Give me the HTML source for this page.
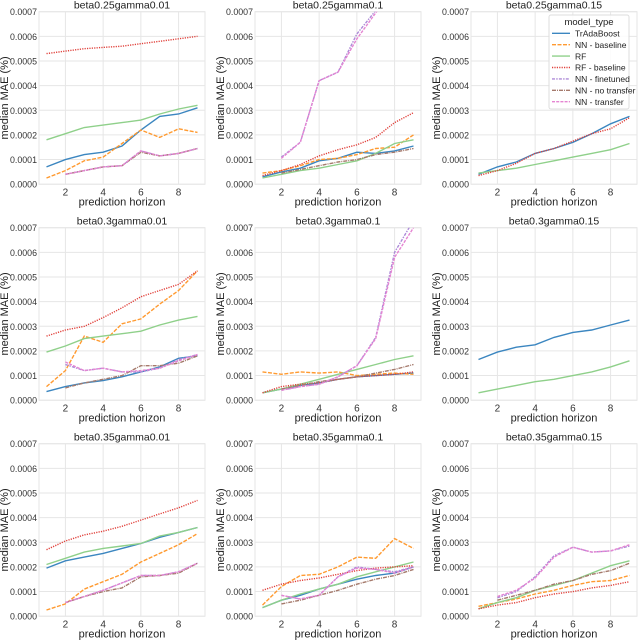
<!DOCTYPE html>
<html><head><meta charset="utf-8"><style>
body{margin:0;background:#fff;}
svg{display:block;font-family:"Liberation Sans",sans-serif;}
</style></head><body>
<svg id="chart" width="640" height="640" viewBox="0 0 640 640"></svg>
<script>
const NS="http://www.w3.org/2000/svg";
const xs=[1,2,3,4,5,6,7,8,9];
const yTicks=[0,1,2,3,4,5,6,7];
const yTickLabels=["0.0000","0.0001","0.0002","0.0003","0.0004","0.0005","0.0006","0.0007"];
const xTicks=[2,4,6,8];
const seriesNames=["TrAdaBoost","NN - baseline","RF","RF - baseline","NN - finetuned","NN - no transfer","NN - transfer"];
const panelTitles=["beta0.25gamma0.01","beta0.25gamma0.1","beta0.25gamma0.15","beta0.3gamma0.01","beta0.3gamma0.1","beta0.3gamma0.15","beta0.35gamma0.01","beta0.35gamma0.1","beta0.35gamma0.15"];
const N=null;
// values in units of 1e-4
const p1={"TrAdaBoost":[0.7,1.0,1.2,1.3,1.55,2.2,2.75,2.85,3.1],"NN - baseline":[0.25,0.55,0.95,1.1,1.65,2.2,1.9,2.25,2.1],"RF":[1.8,2.05,2.3,2.4,2.5,2.6,2.85,3.05,3.2],"RF - baseline":[5.3,5.4,5.5,5.55,5.6,5.7,5.8,5.9,6.0],"NN - finetuned":[N,0.4,0.55,0.7,0.75,1.35,1.15,1.25,1.45],"NN - no transfer":[N,0.4,0.55,0.7,0.75,1.3,1.15,1.25,1.45],"NN - transfer":[N,0.4,0.55,0.7,0.75,1.35,1.15,1.25,1.45]};
const p2={"TrAdaBoost":[0.3,0.5,0.65,0.95,1.05,1.3,1.25,1.35,1.55],"NN - baseline":[0.45,0.55,0.75,1.0,1.05,1.2,1.45,1.5,2.0],"RF":[0.25,0.4,0.55,0.65,0.8,0.95,1.25,1.65,1.8],"RF - baseline":[0.35,0.55,0.8,1.15,1.4,1.6,1.9,2.5,2.9],"NN - finetuned":[N,1.1,1.7,4.2,4.55,6.1,7.05,8.0,9.0],"NN - no transfer":[N,0.45,0.6,0.75,0.9,1.0,1.2,1.3,1.45],"NN - transfer":[N,1.05,1.7,4.2,4.55,5.9,6.95,8.0,9.0]};
const p3={"TrAdaBoost":[0.4,0.7,0.9,1.25,1.45,1.7,2.05,2.45,2.75],"RF":[0.45,0.55,0.65,0.8,0.95,1.1,1.25,1.4,1.65],"RF - baseline":[0.35,0.55,0.85,1.25,1.45,1.75,2.05,2.25,2.7]};
const p4={"TrAdaBoost":[0.35,0.55,0.7,0.8,0.95,1.15,1.35,1.7,1.8],"NN - baseline":[0.55,1.2,2.6,2.35,3.1,3.3,3.9,4.45,5.25],"RF":[1.95,2.2,2.5,2.6,2.7,2.8,3.05,3.25,3.4],"RF - baseline":[2.6,2.85,3.0,3.35,3.75,4.2,4.45,4.7,5.25],"NN - finetuned":[N,1.45,1.2,1.3,1.15,1.15,1.3,1.65,1.85],"NN - no transfer":[N,0.5,0.7,0.85,1.0,1.4,1.4,1.5,1.8],"NN - transfer":[N,1.55,1.2,1.3,1.15,1.2,1.3,1.6,1.85]};
const p5={"TrAdaBoost":[0.3,0.45,0.6,0.7,0.85,0.95,1.0,1.05,1.1],"NN - baseline":[1.15,1.05,1.15,1.1,1.15,1.0,1.05,1.1,1.05],"RF":[0.3,0.45,0.65,0.85,1.05,1.25,1.45,1.65,1.8],"RF - baseline":[0.3,0.55,0.65,0.7,0.85,0.95,1.0,1.05,1.15],"NN - finetuned":[N,0.4,0.55,0.65,0.95,1.4,2.55,6.0,7.3],"NN - no transfer":[N,0.45,0.6,0.75,0.85,0.95,1.1,1.25,1.45],"NN - transfer":[N,0.4,0.55,0.65,0.95,1.4,2.5,5.8,7.0]};
const p6={"TrAdaBoost":[1.65,1.95,2.15,2.25,2.55,2.75,2.85,3.05,3.25],"RF":[0.3,0.45,0.6,0.75,0.85,1.0,1.15,1.35,1.6]};
const p7={"TrAdaBoost":[1.95,2.25,2.4,2.55,2.75,2.95,3.2,3.4,3.6],"NN - baseline":[0.25,0.5,1.1,1.4,1.7,2.2,2.55,2.9,3.35],"RF":[2.1,2.35,2.6,2.75,2.85,2.95,3.25,3.4,3.6],"RF - baseline":[2.7,3.05,3.3,3.45,3.65,3.9,4.15,4.4,4.7],"NN - finetuned":[N,0.55,0.8,1.05,1.35,1.65,1.65,1.8,2.15],"NN - no transfer":[N,0.55,0.8,1.0,1.15,1.6,1.65,1.75,2.15],"NN - transfer":[N,0.55,0.8,1.05,1.35,1.65,1.65,1.8,2.15]};
const p8={"TrAdaBoost":[0.35,0.65,0.85,1.1,1.3,1.5,1.65,1.75,2.0],"NN - baseline":[0.45,1.2,1.65,1.7,2.0,2.4,2.35,3.15,2.75],"RF":[0.35,0.65,0.9,1.1,1.3,1.6,1.8,2.0,2.2],"RF - baseline":[1.05,1.3,1.45,1.55,1.7,1.85,1.95,2.0,2.05],"NN - finetuned":[N,0.85,0.7,0.85,1.6,2.0,1.9,1.8,2.0],"NN - no transfer":[N,0.5,0.65,0.85,1.05,1.3,1.5,1.65,1.9],"NN - transfer":[N,0.85,0.7,0.85,1.6,1.95,1.9,1.75,2.0]};
const p9={"NN - baseline":[0.4,0.55,0.7,0.9,1.05,1.25,1.4,1.45,1.65],"RF":[0.3,0.55,0.75,1.05,1.25,1.45,1.75,2.05,2.25],"RF - baseline":[0.3,0.45,0.55,0.75,0.9,1.0,1.15,1.25,1.4],"NN - finetuned":[N,0.75,1.0,1.6,2.45,2.8,2.6,2.65,2.85],"NN - no transfer":[N,0.65,0.85,1.05,1.3,1.45,1.7,1.85,2.15],"NN - transfer":[N,0.8,1.05,1.55,2.4,2.8,2.6,2.65,2.9]};
const panels=[p1,p2,p3,p4,p5,p6,p7,p8,p9];

const styles={"TrAdaBoost":["#3b86c0",""],"NN - baseline":["#ff9a30","4,1.5"],"RF":["#8fd08a",""],"RF - baseline":["#e0403a","1.2,1.2"],"NN - finetuned":["#ad8ad8","3,1.2,1.5,1.2"],"NN - no transfer":["#a57a6c","4,1,1,1"],"NN - transfer":["#e585d2","3,1.2"]};
const svg=document.getElementById('chart');
function mk(tag,attrs,parent){const e=document.createElementNS(NS,tag);for(const k in attrs)e.setAttribute(k,attrs[k]);(parent||svg).appendChild(e);return e;}
const PW=166,PH=172.5;
panels.forEach((data,i)=>{
  const r=Math.floor(i/3),c=i%3;
  const left=39+216*c, top=11.7+216*r;
  const X=v=>left+(v-0.6)/8.8*PW;
  const Y=v=>top+PH-v/7*PH;
  const g=mk('g',{});
  
  
  const bg=mk('rect',{x:left,y:top,width:PW,height:PH,fill:'#fff',stroke:'#e6e6e6','stroke-width':1},g);
  
  
  yTicks.forEach((t,k)=>{
    const l=mk('line',{x1:left,x2:left+PW,y1:Y(t),y2:Y(t),stroke:'#e6e6e6','stroke-width':1},g);
    
    
    const tx=mk('text',{x:left-2,y:Y(t)+3.5,'text-anchor':'end','font-size':9.5,fill:'#333',textLength:27,lengthAdjust:'spacingAndGlyphs'},g);
    tx.textContent=yTickLabels[k];
    
    
  });
  xTicks.forEach(t=>{
    const l=mk('line',{x1:X(t),x2:X(t),y1:top,y2:top+PH,stroke:'#e6e6e6','stroke-width':1},g);
    
    
    const tx=mk('text',{x:X(t),y:top+PH+11.5,'text-anchor':'middle','font-size':10,fill:'#333'},g);
    tx.textContent=t;
    
    
  });
  const tt=mk('text',{x:left+PW/2,y:top-3,'text-anchor':'middle','font-size':10.5,fill:'#222'},g);
  tt.textContent=panelTitles[i];
  
  
  const xt=mk('text',{x:left+PW/2,y:top+PH+21.5,'text-anchor':'middle','font-size':11,fill:'#222'},g);
  xt.textContent='prediction horizon';
  
  
  const ytx=left-31, yty=top+PH/2;
  const yt=mk('text',{x:ytx,y:yty,'text-anchor':'middle','font-size':11,fill:'#222',transform:`rotate(-90 ${ytx} ${yty})`},g);
  yt.textContent='median MAE (%)';
  
  
  const cid='clip'+i;
  const cp=mk('clipPath',{id:cid},g);
  mk('rect',{x:left,y:top,width:PW,height:PH},cp);
  seriesNames.forEach(name=>{
    const vals=data[name]; if(!vals) return;
    let d='';
    vals.forEach((v,k)=>{ if(v===null) return; d+=(d?'L':'M')+X(xs[k]).toFixed(1)+','+Y(v).toFixed(1); });
    const p=mk('path',{d:d,fill:'none',stroke:styles[name][0],'stroke-width':1.4,'stroke-dasharray':styles[name][1],'clip-path':`url(#${cid})`},g);
    
    
  });
});
// legend
const lg=mk('g',{});


mk('rect',{x:549,y:15,width:80,height:94,fill:'#fff','fill-opacity':0.85,stroke:'#ddd',rx:2},lg);
const lt=mk('text',{x:589,y:25,'text-anchor':'middle','font-size':9.5,fill:'#222'},lg);
lt.textContent='model_type';


seriesNames.forEach((name,k)=>{
  const y=33.3+k*11.4;
  const e=mk('g',{},lg);
  
  
  mk('line',{x1:552,x2:570,y1:y,y2:y,stroke:styles[name][0],'stroke-width':1.4,'stroke-dasharray':styles[name][1]},e);
  const t=mk('text',{x:575,y:y+3.2,'font-size':8.5,fill:'#222'},e);
  t.textContent=name;
});
</script>
</body></html>
